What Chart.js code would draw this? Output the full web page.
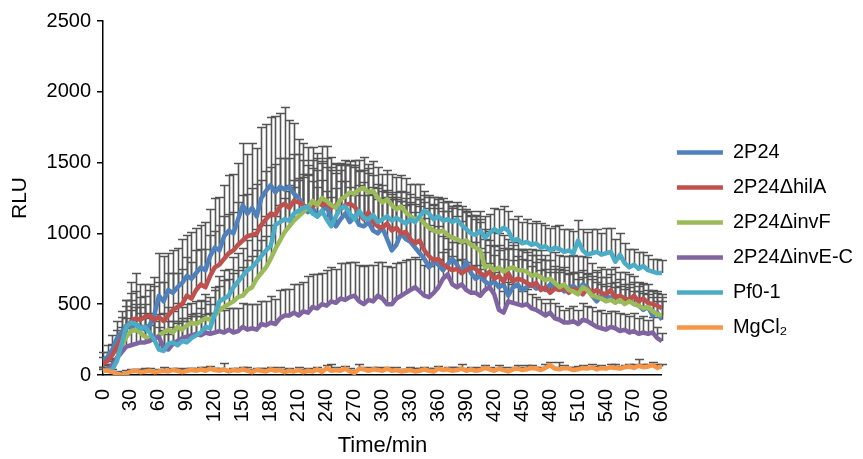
<!DOCTYPE html>
<html>
<head>
<meta charset="utf-8">
<script src="https://cdn.jsdelivr.net/npm/chart.js@4.4.1/dist/chart.umd.min.js"></script>
<style>
  html, body { margin: 0; padding: 0; background: #fff; }
</style>
</head>
<body>
<canvas id="myChart" width="863" height="459"></canvas>
<script>
// sampling times (min)
const times = [
  0, 5, 10, 15, 20, 25, 30, 35, 40, 45,
  50, 55, 60, 65, 70, 75, 80, 85, 90, 95,
  100, 105, 110, 115, 120, 125, 130, 135, 140, 145,
  150, 155, 160, 165, 170, 175, 180, 185, 190, 195,
  200, 205, 210, 215, 220, 225, 230, 235, 240, 245,
  250, 255, 260, 265, 270, 275, 280, 285, 290, 295,
  300, 305, 310, 315, 320, 325, 330, 335, 340, 345,
  350, 355, 360, 365, 370, 375, 380, 385, 390, 395,
  400, 405, 410, 415, 420, 425, 430, 435, 440, 445,
  450, 455, 460, 465, 470, 475, 480, 485, 490, 495,
  500, 505, 510, 515, 520, 525, 530, 535, 540, 545,
  550, 555, 560, 565, 570, 575, 580, 585, 590, 595,
  600
];

const names = ['2P24', '2P24ΔhilA', '2P24ΔinvF', '2P24ΔinvE-C', 'Pf0-1', 'MgCl₂'];
const colors = ['#4F81BD', '#C0504D', '#9BBB59', '#8064A2', '#4BACC6', '#F79646'];

// RLU means
const wt = [
  100, 130, 180, 260, 300, 350, 330, 360, 340, 320,
  350, 420, 560, 520, 600, 580, 620, 650, 700, 680,
  720, 760, 740, 840, 900, 880, 980, 1020, 1000, 1100,
  1200, 1140, 1180, 1120, 1250, 1300, 1340, 1290, 1330, 1310,
  1330, 1280, 1250, 1200, 1150, 1180, 1120, 1150, 1200, 1100,
  1050, 1100, 1140, 1080, 1120, 1060, 1050, 1080, 1020, 1000,
  1040, 960, 880, 920, 1000, 960, 940, 900, 860, 820,
  760, 800, 780, 740, 780, 820, 780, 720, 800, 720,
  680, 700, 660, 640, 660, 620, 640, 560, 620, 640,
  600, 620, 640, 610, 620, 600, 640, 610, 620, 590,
  610, 630, 600, 640, 620, 560, 520, 560, 560, 540,
  560, 520, 540, 530, 500, 490, 460, 480, 420, 440,
  390
];
const hilA = [
  80, 100, 140, 200, 260, 330, 380, 400, 390, 410,
  420, 390, 410, 380, 420, 460, 480, 500, 560, 540,
  600, 640, 620, 700, 760, 780, 820, 860, 880, 920,
  950, 980, 990, 1000, 1060, 1100, 1140, 1130, 1190, 1210,
  1180, 1230, 1220, 1200, 1180, 1190, 1220, 1200, 1210, 1180,
  1200, 1170, 1200, 1210, 1190, 1140, 1100, 1150, 1080, 1050,
  1040, 1070, 1020, 1040, 1000, 1010, 960, 930, 950, 880,
  840, 810, 820, 780, 760, 740, 750, 720, 740, 760,
  750, 720, 700, 730, 680, 700, 660, 720, 660, 680,
  670, 650, 630, 650, 600, 620, 580, 610, 600, 620,
  580, 610, 600, 570, 610, 580, 600, 580, 570, 600,
  550, 560, 540, 530, 560, 520, 540, 510, 500, 490,
  470
];
const invF = [
  30, 40, 60, 120, 200, 270, 310, 320, 300, 270,
  260, 250, 280, 300, 320, 300, 340, 320, 350, 370,
  360, 380, 400, 390, 420, 460, 480, 500, 520, 550,
  560, 600, 620, 680, 720, 760, 820, 890, 950, 1010,
  1050, 1090, 1120, 1150, 1180, 1230, 1200, 1250, 1230, 1200,
  1180, 1240, 1260, 1290, 1280, 1310, 1320, 1290, 1300, 1250,
  1220, 1240, 1200, 1170, 1190, 1150, 1120, 1100, 1110, 1070,
  1040, 1020, 1010, 1020, 990, 970, 960, 940, 950, 920,
  900, 880, 760, 770, 740, 760, 730, 750, 760, 740,
  740, 730, 700, 710, 690, 670, 680, 650, 620, 640,
  600, 590, 570, 620, 600, 560, 550, 540, 520, 530,
  510, 530, 500, 520, 500, 490, 470, 480, 450, 430,
  420
];
const invEC = [
  30, 40, 70, 120, 160, 200, 210, 220, 230, 230,
  240, 260, 270, 190, 180, 220, 240, 260, 270, 280,
  290, 280, 300, 290, 300, 310, 300, 320, 300, 310,
  340, 320, 330, 320, 360, 350, 370, 360, 400, 420,
  420, 440, 420, 450, 440, 480, 470, 500, 490, 520,
  510, 540, 530, 550, 560, 520, 500, 530, 520, 560,
  540, 500, 500, 540, 560, 580, 600, 620, 590, 560,
  550, 580, 620, 680, 710, 640, 620, 640, 600, 580,
  580, 560, 600, 620, 570, 460, 440, 520, 510, 500,
  490, 500, 470, 460, 440, 420, 440, 400, 390, 370,
  370, 380, 360, 390, 380, 360, 340, 330, 320, 340,
  330, 310, 320, 300, 310, 290, 300, 290, 300, 260,
  240
];
const pf01 = [
  30, 30, 40, 100, 220, 340, 370, 360, 330, 340,
  300, 250, 180, 170, 220, 230, 210, 240, 230, 260,
  280, 300, 340, 330, 430, 520, 540, 560, 620, 660,
  700, 740, 760, 800, 840, 880, 910, 1060, 1080, 1100,
  1090, 1140, 1160, 1180, 1190, 1140, 1120, 1160, 1100, 1050,
  1120, 1180, 1190, 1140, 1100, 1160, 1110, 1100, 1130, 1080,
  1100, 1120, 1090, 1110, 1090, 1070, 1100, 1080, 1120, 1160,
  1140, 1100, 1120, 1090, 1100, 1080, 1100, 1060, 1030, 1000,
  990, 1020, 970, 1000, 1030, 1010, 1040, 1020, 950, 960,
  930, 940, 920, 930, 900, 910, 880, 900, 890, 870,
  880, 860, 950, 880, 850, 860, 870, 850, 860, 870,
  800, 850, 790, 760, 780, 750, 770, 740, 730, 720,
  720
];
const mgcl2 = [
  30, 30, 20, 10, 0, 10, 25, 30, 20, 25,
  30, 20, 25, 30, 25, 35, 30, 20, 30, 35,
  30, 40, 30, 45, 35, 30, 40, 25, 35, 30,
  40, 30, 20, 35, 30, 25, 40, 30, 35, 20,
  30, 25, 35, 20, 30, 25, 40, 20, 50, 30,
  35, 30, 45, 25, 15, 45, 40, 30, 40, 35,
  30, 45, 30, 35, 25, 30, 35, 25, 30, 40,
  30, 25, 45, 35, 40, 30, 35, 45, 30, 40,
  30, 35, 50, 40, 30, 45, 35, 25, 40, 45,
  35, 40, 50, 45, 35, 50, 70, 45, 40, 50,
  45, 35, 40, 50, 45, 55, 40, 50, 45, 55,
  50, 45, 55, 60, 50, 65, 55, 60, 70, 50,
  60
];

// upper error (SD)
const wtErr = [
  60, 80, 100, 120, 150, 180, 250, 230, 210, 240,
  250, 270, 300, 320, 260, 300, 280, 310, 290, 330,
  320, 300, 340, 330, 350, 380, 360, 390, 420, 400,
  440, 420, 460, 480, 500, 470, 480, 540, 520, 580,
  470, 500, 420, 440, 460, 430, 450, 470, 420, 440,
  440, 400, 380, 400, 360, 390, 400, 380, 390, 350,
  300, 330, 380, 340, 300, 330, 340, 360, 380, 400,
  420, 400, 400, 420, 380, 360, 340, 370, 360, 400,
  420, 380, 370, 380, 350, 380, 350, 400, 320, 300,
  280, 270, 250, 270, 260, 250, 240, 260, 230, 250,
  230, 220, 240, 200, 210, 230, 220, 200, 190, 210,
  200, 210, 190, 180, 200, 170, 190, 160, 170, 150,
  160
];
const hilAErr = [
  50, 60, 80, 120, 150, 200, 280, 320, 250, 230,
  220, 240, 250, 280, 300, 260, 240, 250, 270, 260,
  280, 250, 270, 290, 260, 280, 300, 280, 270, 300,
  320, 300, 330, 350, 320, 340, 330, 360, 340, 320,
  350, 330, 340, 320, 300, 330, 310, 300, 320, 290,
  300, 280, 290, 270, 280, 300, 260, 280, 250, 270,
  260, 240, 260, 250, 230, 240, 250, 220, 240, 230,
  220, 210, 230, 200, 210, 200, 190, 210, 200, 180,
  190, 180, 170, 190, 170, 180, 160, 170, 150, 160,
  150, 160, 140, 150, 140, 130, 150, 140, 130, 120,
  130, 120, 130, 120, 110, 120, 130, 110, 120, 110,
  110, 120, 100, 110, 100, 110, 100, 90, 100, 90,
  100
];
const invFErr = [
  30, 40, 50, 80, 100, 130, 150, 160, 140, 150,
  140, 160, 150, 140, 160, 150, 170, 160, 150, 140,
  160, 150, 170, 160, 180, 170, 190, 180, 200, 190,
  200, 210, 220, 200, 230, 220, 240, 230, 250, 240,
  250, 240, 260, 250, 240, 230, 250, 260, 240, 250,
  250, 240, 230, 220, 240, 210, 220, 200, 210, 220,
  200, 210, 220, 230, 220, 240, 230, 250, 240, 230,
  230, 240, 250, 230, 240, 220, 240, 230, 220, 240,
  230, 220, 200, 180, 170, 160, 170, 150, 160, 150,
  150, 140, 150, 140, 130, 140, 130, 120, 130, 120,
  120, 130, 110, 120, 110, 120, 110, 100, 110, 120,
  110, 100, 110, 100, 90, 100, 110, 90, 100, 90,
  100
];
const invECErr = [
  30, 40, 50, 60, 80, 90, 100, 110, 100, 120,
  110, 120, 130, 120, 110, 120, 130, 120, 130, 140,
  130, 140, 130, 150, 140, 150, 160, 150, 170, 160,
  170, 180, 170, 180, 160, 170, 190, 180, 200, 190,
  190, 200, 220, 210, 260, 230, 240, 220, 250, 240,
  240, 250, 260, 250, 240, 260, 270, 250, 260, 240,
  260, 270, 260, 250, 240, 230, 220, 210, 230, 220,
  220, 210, 200, 190, 180, 200, 190, 180, 200, 190,
  200, 190, 180, 170, 160, 180, 150, 140, 130, 120,
  100, 110, 100, 90, 100, 90, 100, 110, 100, 90,
  100, 110, 100, 120, 110, 120, 110, 130, 120, 110,
  120, 130, 110, 120, 130, 110, 120, 100, 110, 80,
  60
];
const pf01Err = [
  30, 40, 60, 80, 120, 150, 160, 140, 150, 160,
  140, 150, 160, 150, 160, 150, 170, 160, 150, 170,
  160, 170, 180, 170, 190, 180, 200, 190, 210, 200,
  200, 210, 220, 230, 220, 240, 230, 250, 240, 230,
  250, 240, 230, 240, 220, 230, 210, 220, 200, 210,
  200, 190, 180, 190, 170, 180, 160, 170, 150, 160,
  150, 140, 150, 130, 140, 130, 120, 130, 120, 110,
  120, 110, 120, 130, 120, 110, 120, 130, 120, 130,
  130, 140, 150, 140, 150, 160, 150, 140, 150, 160,
  150, 160, 150, 160, 170, 150, 160, 150, 170, 160,
  150, 160, 145, 150, 160, 170, 160, 150, 180, 170,
  160, 150, 140, 130, 110, 120, 100, 110, 90, 100,
  90
];
const mgcl2Err = [
  10, 15, 20, 15, 20, 25, 20, 15, 20, 25,
  20, 15, 20, 25, 20, 15, 20, 25, 20, 15,
  20, 15, 25, 20, 15, 20, 45, 20, 15, 20,
  20, 25, 20, 15, 20, 25, 20, 15, 20, 25,
  20, 15, 20, 25, 20, 15, 20, 25, 20, 50,
  20, 15, 20, 25, 20, 30, 20, 15, 20, 25,
  20, 15, 20, 25, 20, 15, 20, 25, 20, 15,
  20, 25, 20, 15, 20, 25, 20, 30, 20, 15,
  20, 25, 20, 15, 20, 25, 20, 15, 20, 25,
  20, 30, 20, 15, 20, 25, 20, 15, 50, 20,
  15, 20, 25, 20, 15, 20, 25, 20, 15, 20,
  25, 20, 15, 20, 25, 50, 20, 15, 20, 25,
  20
];

const means = [wt, hilA, invF, invEC, pf01, mgcl2];
const errs = [wtErr, hilAErr, invFErr, invECErr, pf01Err, mgcl2Err];

const font = "'Liberation Sans', Arial, sans-serif";

// upward error bars, drawn under the lines
const errorBars = {
    id: 'errorBars',
    beforeDatasetsDraw(chart) {
        const ctx = chart.ctx;
        const xs = chart.scales.x;
        const ys = chart.scales.y;
        ctx.save();
        ctx.strokeStyle = '#555555';
        ctx.lineWidth = 1.6;
        chart.data.datasets.forEach(function (ds) {
            ds.data.forEach(function (p, i) {
                const px = Math.round(xs.getPixelForValue(p.x)) + 0.5;
                const y0 = ys.getPixelForValue(p.y);
                const y1 = Math.round(ys.getPixelForValue(p.y + ds.err[i])) + 0.5;
                ctx.beginPath();
                ctx.moveTo(px, y0);
                ctx.lineTo(px, y1);
                ctx.moveTo(px - 4.5, y1);
                ctx.lineTo(px + 4.5, y1);
                ctx.stroke();
            });
        });
        ctx.restore();
    }
};

const datasets = names.map(function (name, k) {
    return {
        label: name,
        data: times.map(function (t, i) { return { x: t, y: means[k][i] }; }),
        err: errs[k],
        borderColor: colors[k],
        backgroundColor: colors[k],
        borderWidth: 4.5,
        borderJoinStyle: 'round',
        pointRadius: 0,
        tension: 0,
        order: names.length - k
    };
});

new Chart(document.getElementById('myChart'), {
    type: 'line',
    data: { datasets: datasets },
    plugins: [errorBars],
    options: {
        responsive: false,
        animation: false,
        layout: { padding: { top: 21, right: 0, bottom: 0, left: 0 } },
        plugins: {
            legend: {
                position: 'right',
                align: 'center',
                labels: {
                    usePointStyle: true,
                    pointStyle: 'line',
                    pointStyleWidth: 46,
                    color: '#000',
                    padding: 15,
                    font: { family: font, size: 20 },
                    sort: function (a, b) { return a.datasetIndex - b.datasetIndex; }
                }
            },
            tooltip: { enabled: false }
        },
        scales: {
            x: {
                type: 'linear',
                min: 0,
                max: 600,
                ticks: {
                    stepSize: 30,
                    minRotation: 90,
                    maxRotation: 90,
                    color: '#000',
                    padding: 6,
                    font: { family: font, size: 20 }
                },
                grid: { display: false },
                border: { display: true, color: '#000', width: 1.5 },
                title: {
                    display: true,
                    text: 'Time/min',
                    color: '#000',
                    padding: 0,
                    font: { family: font, size: 22 }
                },
                afterFit: function (scale) { scale.height = 84; }
            },
            y: {
                min: 0,
                max: 2500,
                ticks: {
                    stepSize: 500,
                    color: '#000',
                    padding: 6,
                    font: { family: font, size: 20 },
                    callback: function (v) { return String(v); }
                },
                grid: {
                    drawOnChartArea: false,
                    drawTicks: true,
                    tickLength: 6,
                    color: '#000',
                    lineWidth: 1.5
                },
                border: { display: true, color: '#000', width: 1.5 },
                title: {
                    display: true,
                    text: 'RLU',
                    color: '#000',
                    padding: { top: 8, bottom: 0 },
                    font: { family: font, size: 21 }
                },
                afterFit: function (scale) { scale.width = 103; }
            }
        }
    }
});
</script>
</body>
</html>
